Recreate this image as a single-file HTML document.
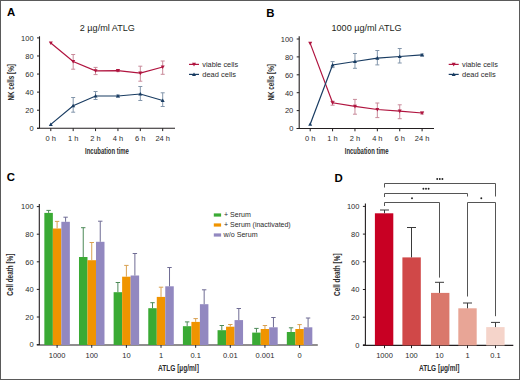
<!DOCTYPE html>
<html><head><meta charset="utf-8"><style>
html,body{margin:0;padding:0;background:#fff;}
#w{position:relative;width:518px;height:378px;border:1px solid #5a5a5a;overflow:hidden;background:#fff;}
svg{position:absolute;left:-1px;top:-1px;}
text{font-family:"Liberation Sans", sans-serif;}
</style></head><body><div id="w">
<svg width="520" height="380" viewBox="0 0 520 380">
<line x1="39.5" y1="36.3" x2="39.5" y2="128.3" stroke="#231f20" stroke-width="1.1"/>
<line x1="37.0" y1="128.3" x2="175" y2="128.3" stroke="#231f20" stroke-width="1.1"/>
<line x1="37.0" y1="128.3" x2="39.5" y2="128.3" stroke="#231f20" stroke-width="1"/>
<text x="33.6" y="131.15" font-size="7.9" text-anchor="end" fill="#2b2b2b" font-weight="normal" textLength="4.17" lengthAdjust="spacingAndGlyphs" >0</text>
<line x1="37.0" y1="110.22000000000001" x2="39.5" y2="110.22000000000001" stroke="#231f20" stroke-width="1"/>
<text x="33.6" y="113.07000000000001" font-size="7.9" text-anchor="end" fill="#2b2b2b" font-weight="normal" textLength="8.35" lengthAdjust="spacingAndGlyphs" >20</text>
<line x1="37.0" y1="92.14000000000001" x2="39.5" y2="92.14000000000001" stroke="#231f20" stroke-width="1"/>
<text x="33.6" y="94.99000000000001" font-size="7.9" text-anchor="end" fill="#2b2b2b" font-weight="normal" textLength="8.35" lengthAdjust="spacingAndGlyphs" >40</text>
<line x1="37.0" y1="74.06" x2="39.5" y2="74.06" stroke="#231f20" stroke-width="1"/>
<text x="33.6" y="76.91" font-size="7.9" text-anchor="end" fill="#2b2b2b" font-weight="normal" textLength="8.35" lengthAdjust="spacingAndGlyphs" >60</text>
<line x1="37.0" y1="55.980000000000004" x2="39.5" y2="55.980000000000004" stroke="#231f20" stroke-width="1"/>
<text x="33.6" y="58.830000000000005" font-size="7.9" text-anchor="end" fill="#2b2b2b" font-weight="normal" textLength="8.35" lengthAdjust="spacingAndGlyphs" >80</text>
<line x1="37.0" y1="37.900000000000006" x2="39.5" y2="37.900000000000006" stroke="#231f20" stroke-width="1"/>
<text x="33.6" y="40.75000000000001" font-size="7.9" text-anchor="end" fill="#2b2b2b" font-weight="normal" textLength="12.52" lengthAdjust="spacingAndGlyphs" >100</text>
<line x1="50.8" y1="128.3" x2="50.8" y2="131.10000000000002" stroke="#231f20" stroke-width="1"/>
<text x="50.8" y="140.6" font-size="7.9" text-anchor="middle" fill="#2b2b2b" font-weight="normal" textLength="10.43" lengthAdjust="spacingAndGlyphs" >0 h</text>
<line x1="73.17999999999999" y1="128.3" x2="73.17999999999999" y2="131.10000000000002" stroke="#231f20" stroke-width="1"/>
<text x="73.17999999999999" y="140.6" font-size="7.9" text-anchor="middle" fill="#2b2b2b" font-weight="normal" textLength="10.43" lengthAdjust="spacingAndGlyphs" >1 h</text>
<line x1="95.56" y1="128.3" x2="95.56" y2="131.10000000000002" stroke="#231f20" stroke-width="1"/>
<text x="95.56" y="140.6" font-size="7.9" text-anchor="middle" fill="#2b2b2b" font-weight="normal" textLength="10.43" lengthAdjust="spacingAndGlyphs" >2 h</text>
<line x1="117.94" y1="128.3" x2="117.94" y2="131.10000000000002" stroke="#231f20" stroke-width="1"/>
<text x="117.94" y="140.6" font-size="7.9" text-anchor="middle" fill="#2b2b2b" font-weight="normal" textLength="10.43" lengthAdjust="spacingAndGlyphs" >4 h</text>
<line x1="140.32" y1="128.3" x2="140.32" y2="131.10000000000002" stroke="#231f20" stroke-width="1"/>
<text x="140.32" y="140.6" font-size="7.9" text-anchor="middle" fill="#2b2b2b" font-weight="normal" textLength="10.43" lengthAdjust="spacingAndGlyphs" >6 h</text>
<line x1="162.7" y1="128.3" x2="162.7" y2="131.10000000000002" stroke="#231f20" stroke-width="1"/>
<text x="162.7" y="140.6" font-size="7.9" text-anchor="middle" fill="#2b2b2b" font-weight="normal" textLength="14.6" lengthAdjust="spacingAndGlyphs" >24 h</text>
<text x="107" y="153.8" font-size="8.2" text-anchor="middle" fill="#2a2a2a" font-weight="bold" textLength="43.8" lengthAdjust="spacingAndGlyphs" >Incubation time</text>
<text transform="translate(14.4,82.3) rotate(-90)" x="0" y="0" font-size="8.2" text-anchor="middle" fill="#2a2a2a" font-weight="bold" textLength="36.5" lengthAdjust="spacingAndGlyphs">NK cells [%]</text>
<text x="79.8" y="30.7" font-size="8.9" text-anchor="start" fill="#231f20" font-weight="normal" textLength="55" lengthAdjust="spacingAndGlyphs" >2 µg/ml ATLG</text>
<line x1="73.17999999999999" y1="54.5" x2="73.17999999999999" y2="69.2" stroke="#c98a9a" stroke-width="1"/>
<line x1="71.17999999999999" y1="54.5" x2="75.17999999999999" y2="54.5" stroke="#c98a9a" stroke-width="1"/>
<line x1="71.17999999999999" y1="69.2" x2="75.17999999999999" y2="69.2" stroke="#c98a9a" stroke-width="1"/>
<line x1="95.56" y1="67.4" x2="95.56" y2="74.6" stroke="#c98a9a" stroke-width="1"/>
<line x1="93.56" y1="67.4" x2="97.56" y2="67.4" stroke="#c98a9a" stroke-width="1"/>
<line x1="93.56" y1="74.6" x2="97.56" y2="74.6" stroke="#c98a9a" stroke-width="1"/>
<line x1="117.94" y1="69.6" x2="117.94" y2="71.6" stroke="#c98a9a" stroke-width="1"/>
<line x1="115.94" y1="69.6" x2="119.94" y2="69.6" stroke="#c98a9a" stroke-width="1"/>
<line x1="115.94" y1="71.6" x2="119.94" y2="71.6" stroke="#c98a9a" stroke-width="1"/>
<line x1="140.32" y1="66.2" x2="140.32" y2="81.2" stroke="#c98a9a" stroke-width="1"/>
<line x1="138.32" y1="66.2" x2="142.32" y2="66.2" stroke="#c98a9a" stroke-width="1"/>
<line x1="138.32" y1="81.2" x2="142.32" y2="81.2" stroke="#c98a9a" stroke-width="1"/>
<line x1="162.7" y1="61" x2="162.7" y2="74.3" stroke="#c98a9a" stroke-width="1"/>
<line x1="160.7" y1="61" x2="164.7" y2="61" stroke="#c98a9a" stroke-width="1"/>
<line x1="160.7" y1="74.3" x2="164.7" y2="74.3" stroke="#c98a9a" stroke-width="1"/>
<polyline points="50.8,43 73.17999999999999,61.5 95.56,70.8 117.94,70.6 140.32,73.2 162.7,67" fill="none" stroke="#b0143f" stroke-width="1.2"/>
<polygon points="48.8,41.4 52.8,41.4 50.8,45.0" fill="#b0143f"/>
<polygon points="71.17999999999999,59.9 75.17999999999999,59.9 73.17999999999999,63.5" fill="#b0143f"/>
<polygon points="93.56,69.2 97.56,69.2 95.56,72.8" fill="#b0143f"/>
<polygon points="115.94,69.0 119.94,69.0 117.94,72.6" fill="#b0143f"/>
<polygon points="138.32,71.60000000000001 142.32,71.60000000000001 140.32,75.2" fill="#b0143f"/>
<polygon points="160.7,65.4 164.7,65.4 162.7,69.0" fill="#b0143f"/>
<line x1="73.17999999999999" y1="97.5" x2="73.17999999999999" y2="112.2" stroke="#8396ab" stroke-width="1"/>
<line x1="71.17999999999999" y1="97.5" x2="75.17999999999999" y2="97.5" stroke="#8396ab" stroke-width="1"/>
<line x1="71.17999999999999" y1="112.2" x2="75.17999999999999" y2="112.2" stroke="#8396ab" stroke-width="1"/>
<line x1="95.56" y1="91.5" x2="95.56" y2="99.5" stroke="#8396ab" stroke-width="1"/>
<line x1="93.56" y1="91.5" x2="97.56" y2="91.5" stroke="#8396ab" stroke-width="1"/>
<line x1="93.56" y1="99.5" x2="97.56" y2="99.5" stroke="#8396ab" stroke-width="1"/>
<line x1="117.94" y1="95" x2="117.94" y2="97" stroke="#8396ab" stroke-width="1"/>
<line x1="115.94" y1="95" x2="119.94" y2="95" stroke="#8396ab" stroke-width="1"/>
<line x1="115.94" y1="97" x2="119.94" y2="97" stroke="#8396ab" stroke-width="1"/>
<line x1="140.32" y1="86.5" x2="140.32" y2="100.5" stroke="#8396ab" stroke-width="1"/>
<line x1="138.32" y1="86.5" x2="142.32" y2="86.5" stroke="#8396ab" stroke-width="1"/>
<line x1="138.32" y1="100.5" x2="142.32" y2="100.5" stroke="#8396ab" stroke-width="1"/>
<line x1="162.7" y1="92.8" x2="162.7" y2="106.5" stroke="#8396ab" stroke-width="1"/>
<line x1="160.7" y1="92.8" x2="164.7" y2="92.8" stroke="#8396ab" stroke-width="1"/>
<line x1="160.7" y1="106.5" x2="164.7" y2="106.5" stroke="#8396ab" stroke-width="1"/>
<polyline points="50.8,124.4 73.17999999999999,105.7 95.56,96 117.94,96 140.32,94 162.7,100.5" fill="none" stroke="#193c62" stroke-width="1.2"/>
<polygon points="48.8,126.0 52.8,126.0 50.8,122.4" fill="#193c62"/>
<polygon points="71.17999999999999,107.3 75.17999999999999,107.3 73.17999999999999,103.7" fill="#193c62"/>
<polygon points="93.56,97.6 97.56,97.6 95.56,94.0" fill="#193c62"/>
<polygon points="115.94,97.6 119.94,97.6 117.94,94.0" fill="#193c62"/>
<polygon points="138.32,95.6 142.32,95.6 140.32,92.0" fill="#193c62"/>
<polygon points="160.7,102.1 164.7,102.1 162.7,98.5" fill="#193c62"/>
<line x1="189" y1="64.4" x2="199" y2="64.4" stroke="#b0143f" stroke-width="1.2"/>
<polygon points="192.0,62.800000000000004 196.0,62.800000000000004 194,66.4" fill="#b0143f"/>
<text x="202.3" y="67.3" font-size="7.4" text-anchor="start" fill="#2b2b2b" font-weight="normal" textLength="35.8" lengthAdjust="spacingAndGlyphs" >viable cells</text>
<line x1="189" y1="74.4" x2="199" y2="74.4" stroke="#193c62" stroke-width="1.2"/>
<polygon points="192.0,76.0 196.0,76.0 194,72.4" fill="#193c62"/>
<text x="202.3" y="77.3" font-size="7.4" text-anchor="start" fill="#2b2b2b" font-weight="normal" textLength="33.7" lengthAdjust="spacingAndGlyphs" >dead cells</text>
<line x1="299.2" y1="36.3" x2="299.2" y2="128.5" stroke="#231f20" stroke-width="1.1"/>
<line x1="296.7" y1="128.5" x2="434" y2="128.5" stroke="#231f20" stroke-width="1.1"/>
<line x1="296.7" y1="128.5" x2="299.2" y2="128.5" stroke="#231f20" stroke-width="1"/>
<text x="293.3" y="131.35" font-size="7.9" text-anchor="end" fill="#2b2b2b" font-weight="normal" textLength="4.17" lengthAdjust="spacingAndGlyphs" >0</text>
<line x1="296.7" y1="110.6" x2="299.2" y2="110.6" stroke="#231f20" stroke-width="1"/>
<text x="293.3" y="113.44999999999999" font-size="7.9" text-anchor="end" fill="#2b2b2b" font-weight="normal" textLength="8.35" lengthAdjust="spacingAndGlyphs" >20</text>
<line x1="296.7" y1="92.7" x2="299.2" y2="92.7" stroke="#231f20" stroke-width="1"/>
<text x="293.3" y="95.55" font-size="7.9" text-anchor="end" fill="#2b2b2b" font-weight="normal" textLength="8.35" lengthAdjust="spacingAndGlyphs" >40</text>
<line x1="296.7" y1="74.8" x2="299.2" y2="74.8" stroke="#231f20" stroke-width="1"/>
<text x="293.3" y="77.64999999999999" font-size="7.9" text-anchor="end" fill="#2b2b2b" font-weight="normal" textLength="8.35" lengthAdjust="spacingAndGlyphs" >60</text>
<line x1="296.7" y1="56.900000000000006" x2="299.2" y2="56.900000000000006" stroke="#231f20" stroke-width="1"/>
<text x="293.3" y="59.75000000000001" font-size="7.9" text-anchor="end" fill="#2b2b2b" font-weight="normal" textLength="8.35" lengthAdjust="spacingAndGlyphs" >80</text>
<line x1="296.7" y1="39.0" x2="299.2" y2="39.0" stroke="#231f20" stroke-width="1"/>
<text x="293.3" y="41.85" font-size="7.9" text-anchor="end" fill="#2b2b2b" font-weight="normal" textLength="12.52" lengthAdjust="spacingAndGlyphs" >100</text>
<line x1="310.2" y1="128.5" x2="310.2" y2="131.3" stroke="#231f20" stroke-width="1"/>
<text x="310.2" y="140.6" font-size="7.9" text-anchor="middle" fill="#2b2b2b" font-weight="normal" textLength="10.43" lengthAdjust="spacingAndGlyphs" >0 h</text>
<line x1="332.58" y1="128.5" x2="332.58" y2="131.3" stroke="#231f20" stroke-width="1"/>
<text x="332.58" y="140.6" font-size="7.9" text-anchor="middle" fill="#2b2b2b" font-weight="normal" textLength="10.43" lengthAdjust="spacingAndGlyphs" >1 h</text>
<line x1="354.96" y1="128.5" x2="354.96" y2="131.3" stroke="#231f20" stroke-width="1"/>
<text x="354.96" y="140.6" font-size="7.9" text-anchor="middle" fill="#2b2b2b" font-weight="normal" textLength="10.43" lengthAdjust="spacingAndGlyphs" >2 h</text>
<line x1="377.34" y1="128.5" x2="377.34" y2="131.3" stroke="#231f20" stroke-width="1"/>
<text x="377.34" y="140.6" font-size="7.9" text-anchor="middle" fill="#2b2b2b" font-weight="normal" textLength="10.43" lengthAdjust="spacingAndGlyphs" >4 h</text>
<line x1="399.71999999999997" y1="128.5" x2="399.71999999999997" y2="131.3" stroke="#231f20" stroke-width="1"/>
<text x="399.71999999999997" y="140.6" font-size="7.9" text-anchor="middle" fill="#2b2b2b" font-weight="normal" textLength="10.43" lengthAdjust="spacingAndGlyphs" >6 h</text>
<line x1="422.09999999999997" y1="128.5" x2="422.09999999999997" y2="131.3" stroke="#231f20" stroke-width="1"/>
<text x="422.09999999999997" y="140.6" font-size="7.9" text-anchor="middle" fill="#2b2b2b" font-weight="normal" textLength="14.6" lengthAdjust="spacingAndGlyphs" >24 h</text>
<text x="366.7" y="153.8" font-size="8.2" text-anchor="middle" fill="#2a2a2a" font-weight="bold" textLength="43.8" lengthAdjust="spacingAndGlyphs" >Incubation time</text>
<text transform="translate(274.09999999999997,82.3) rotate(-90)" x="0" y="0" font-size="8.2" text-anchor="middle" fill="#2a2a2a" font-weight="bold" textLength="36.5" lengthAdjust="spacingAndGlyphs">NK cells [%]</text>
<text x="331.5" y="30.7" font-size="8.9" text-anchor="start" fill="#231f20" font-weight="normal" textLength="70.1" lengthAdjust="spacingAndGlyphs" >1000 µg/ml ATLG</text>
<line x1="332.58" y1="101.2" x2="332.58" y2="105.2" stroke="#c98a9a" stroke-width="1"/>
<line x1="330.58" y1="101.2" x2="334.58" y2="101.2" stroke="#c98a9a" stroke-width="1"/>
<line x1="330.58" y1="105.2" x2="334.58" y2="105.2" stroke="#c98a9a" stroke-width="1"/>
<line x1="354.96" y1="99.4" x2="354.96" y2="114.2" stroke="#c98a9a" stroke-width="1"/>
<line x1="352.96" y1="99.4" x2="356.96" y2="99.4" stroke="#c98a9a" stroke-width="1"/>
<line x1="352.96" y1="114.2" x2="356.96" y2="114.2" stroke="#c98a9a" stroke-width="1"/>
<line x1="377.34" y1="103" x2="377.34" y2="117.6" stroke="#c98a9a" stroke-width="1"/>
<line x1="375.34" y1="103" x2="379.34" y2="103" stroke="#c98a9a" stroke-width="1"/>
<line x1="375.34" y1="117.6" x2="379.34" y2="117.6" stroke="#c98a9a" stroke-width="1"/>
<line x1="399.71999999999997" y1="104.8" x2="399.71999999999997" y2="118.7" stroke="#c98a9a" stroke-width="1"/>
<line x1="397.71999999999997" y1="104.8" x2="401.71999999999997" y2="104.8" stroke="#c98a9a" stroke-width="1"/>
<line x1="397.71999999999997" y1="118.7" x2="401.71999999999997" y2="118.7" stroke="#c98a9a" stroke-width="1"/>
<line x1="422.09999999999997" y1="112" x2="422.09999999999997" y2="114" stroke="#c98a9a" stroke-width="1"/>
<line x1="420.09999999999997" y1="112" x2="424.09999999999997" y2="112" stroke="#c98a9a" stroke-width="1"/>
<line x1="420.09999999999997" y1="114" x2="424.09999999999997" y2="114" stroke="#c98a9a" stroke-width="1"/>
<polyline points="310.2,43.4 332.58,102.8 354.96,106.4 377.34,109.5 399.71999999999997,111.2 422.09999999999997,113" fill="none" stroke="#b0143f" stroke-width="1.2"/>
<polygon points="308.2,41.8 312.2,41.8 310.2,45.4" fill="#b0143f"/>
<polygon points="330.58,101.2 334.58,101.2 332.58,104.8" fill="#b0143f"/>
<polygon points="352.96,104.80000000000001 356.96,104.80000000000001 354.96,108.4" fill="#b0143f"/>
<polygon points="375.34,107.9 379.34,107.9 377.34,111.5" fill="#b0143f"/>
<polygon points="397.71999999999997,109.60000000000001 401.71999999999997,109.60000000000001 399.71999999999997,113.2" fill="#b0143f"/>
<polygon points="420.09999999999997,111.4 424.09999999999997,111.4 422.09999999999997,115.0" fill="#b0143f"/>
<line x1="332.58" y1="61.6" x2="332.58" y2="67.6" stroke="#8396ab" stroke-width="1"/>
<line x1="330.58" y1="61.6" x2="334.58" y2="61.6" stroke="#8396ab" stroke-width="1"/>
<line x1="330.58" y1="67.6" x2="334.58" y2="67.6" stroke="#8396ab" stroke-width="1"/>
<line x1="354.96" y1="53.5" x2="354.96" y2="68.3" stroke="#8396ab" stroke-width="1"/>
<line x1="352.96" y1="53.5" x2="356.96" y2="53.5" stroke="#8396ab" stroke-width="1"/>
<line x1="352.96" y1="68.3" x2="356.96" y2="68.3" stroke="#8396ab" stroke-width="1"/>
<line x1="377.34" y1="50.5" x2="377.34" y2="64.9" stroke="#8396ab" stroke-width="1"/>
<line x1="375.34" y1="50.5" x2="379.34" y2="50.5" stroke="#8396ab" stroke-width="1"/>
<line x1="375.34" y1="64.9" x2="379.34" y2="64.9" stroke="#8396ab" stroke-width="1"/>
<line x1="399.71999999999997" y1="48.5" x2="399.71999999999997" y2="63" stroke="#8396ab" stroke-width="1"/>
<line x1="397.71999999999997" y1="48.5" x2="401.71999999999997" y2="48.5" stroke="#8396ab" stroke-width="1"/>
<line x1="397.71999999999997" y1="63" x2="401.71999999999997" y2="63" stroke="#8396ab" stroke-width="1"/>
<line x1="422.09999999999997" y1="54" x2="422.09999999999997" y2="55.8" stroke="#8396ab" stroke-width="1"/>
<line x1="420.09999999999997" y1="54" x2="424.09999999999997" y2="54" stroke="#8396ab" stroke-width="1"/>
<line x1="420.09999999999997" y1="55.8" x2="424.09999999999997" y2="55.8" stroke="#8396ab" stroke-width="1"/>
<polyline points="310.2,124.2 332.58,65 354.96,61.5 377.34,58.1 399.71999999999997,56.5 422.09999999999997,54.9" fill="none" stroke="#193c62" stroke-width="1.2"/>
<polygon points="308.2,125.8 312.2,125.8 310.2,122.2" fill="#193c62"/>
<polygon points="330.58,66.6 334.58,66.6 332.58,63.0" fill="#193c62"/>
<polygon points="352.96,63.1 356.96,63.1 354.96,59.5" fill="#193c62"/>
<polygon points="375.34,59.7 379.34,59.7 377.34,56.1" fill="#193c62"/>
<polygon points="397.71999999999997,58.1 401.71999999999997,58.1 399.71999999999997,54.5" fill="#193c62"/>
<polygon points="420.09999999999997,56.5 424.09999999999997,56.5 422.09999999999997,52.9" fill="#193c62"/>
<line x1="448.7" y1="64.4" x2="458.7" y2="64.4" stroke="#b0143f" stroke-width="1.2"/>
<polygon points="451.7,62.800000000000004 455.7,62.800000000000004 453.7,66.4" fill="#b0143f"/>
<text x="462.0" y="67.3" font-size="7.4" text-anchor="start" fill="#2b2b2b" font-weight="normal" textLength="35.8" lengthAdjust="spacingAndGlyphs" >viable cells</text>
<line x1="448.7" y1="74.4" x2="458.7" y2="74.4" stroke="#193c62" stroke-width="1.2"/>
<polygon points="451.7,76.0 455.7,76.0 453.7,72.4" fill="#193c62"/>
<text x="462.0" y="77.3" font-size="7.4" text-anchor="start" fill="#2b2b2b" font-weight="normal" textLength="33.7" lengthAdjust="spacingAndGlyphs" >dead cells</text>
<text x="7.0" y="15.9" font-size="11.4" text-anchor="start" fill="#000" font-weight="bold" >A</text>
<text x="266.3" y="16.6" font-size="11.4" text-anchor="start" fill="#000" font-weight="bold" >B</text>
<text x="6.8" y="181.2" font-size="11.4" text-anchor="start" fill="#000" font-weight="bold" >C</text>
<text x="334.6" y="181.5" font-size="11.4" text-anchor="start" fill="#000" font-weight="bold" >D</text>
<line x1="39.3" y1="204" x2="39.3" y2="345" stroke="#231f20" stroke-width="1.1"/>
<line x1="36.8" y1="345" x2="317.8" y2="345" stroke="#231f20" stroke-width="1.1"/>
<line x1="36.8" y1="344.6" x2="39.3" y2="344.6" stroke="#231f20" stroke-width="1"/>
<text x="33.6" y="347.45000000000005" font-size="7.9" text-anchor="end" fill="#2b2b2b" font-weight="normal" textLength="4.17" lengthAdjust="spacingAndGlyphs" >0</text>
<line x1="36.8" y1="317.0" x2="39.3" y2="317.0" stroke="#231f20" stroke-width="1"/>
<text x="33.6" y="319.85" font-size="7.9" text-anchor="end" fill="#2b2b2b" font-weight="normal" textLength="8.35" lengthAdjust="spacingAndGlyphs" >20</text>
<line x1="36.8" y1="289.4" x2="39.3" y2="289.4" stroke="#231f20" stroke-width="1"/>
<text x="33.6" y="292.25" font-size="7.9" text-anchor="end" fill="#2b2b2b" font-weight="normal" textLength="8.35" lengthAdjust="spacingAndGlyphs" >40</text>
<line x1="36.8" y1="261.8" x2="39.3" y2="261.8" stroke="#231f20" stroke-width="1"/>
<text x="33.6" y="264.65000000000003" font-size="7.9" text-anchor="end" fill="#2b2b2b" font-weight="normal" textLength="8.35" lengthAdjust="spacingAndGlyphs" >60</text>
<line x1="36.8" y1="234.2" x2="39.3" y2="234.2" stroke="#231f20" stroke-width="1"/>
<text x="33.6" y="237.04999999999998" font-size="7.9" text-anchor="end" fill="#2b2b2b" font-weight="normal" textLength="8.35" lengthAdjust="spacingAndGlyphs" >80</text>
<line x1="36.8" y1="206.6" x2="39.3" y2="206.6" stroke="#231f20" stroke-width="1"/>
<text x="33.6" y="209.45" font-size="7.9" text-anchor="end" fill="#2b2b2b" font-weight="normal" textLength="12.52" lengthAdjust="spacingAndGlyphs" >100</text>
<rect x="44.35" y="212.9" width="8.5" height="132.10" fill="#3aaa34"/>
<line x1="48.6" y1="210.4" x2="48.6" y2="212.9" stroke="#4d8a58" stroke-width="1"/>
<line x1="46.4" y1="210.4" x2="50.800000000000004" y2="210.4" stroke="#4d8a58" stroke-width="1"/>
<rect x="52.85" y="228.5" width="8.5" height="116.50" fill="#f09400"/>
<line x1="57.1" y1="221.4" x2="57.1" y2="228.5" stroke="#d9a050" stroke-width="1"/>
<line x1="54.9" y1="221.4" x2="59.300000000000004" y2="221.4" stroke="#d9a050" stroke-width="1"/>
<rect x="61.35" y="221.8" width="8.5" height="123.20" fill="#9288c0"/>
<line x1="65.6" y1="217.2" x2="65.6" y2="221.8" stroke="#6f6c94" stroke-width="1"/>
<line x1="63.39999999999999" y1="217.2" x2="67.8" y2="217.2" stroke="#6f6c94" stroke-width="1"/>
<line x1="57.1" y1="345" x2="57.1" y2="347.8" stroke="#231f20" stroke-width="1"/>
<text x="57.1" y="358" font-size="7.9" text-anchor="middle" fill="#2b2b2b" font-weight="normal" textLength="16.69" lengthAdjust="spacingAndGlyphs" >1000</text>
<rect x="78.99" y="257.0" width="8.5" height="88.00" fill="#3aaa34"/>
<line x1="83.24000000000001" y1="227.7" x2="83.24000000000001" y2="257.0" stroke="#4d8a58" stroke-width="1"/>
<line x1="81.04" y1="227.7" x2="85.44000000000001" y2="227.7" stroke="#4d8a58" stroke-width="1"/>
<rect x="87.49" y="260.2" width="8.5" height="84.80" fill="#f09400"/>
<line x1="91.74000000000001" y1="242.5" x2="91.74000000000001" y2="260.2" stroke="#d9a050" stroke-width="1"/>
<line x1="89.54" y1="242.5" x2="93.94000000000001" y2="242.5" stroke="#d9a050" stroke-width="1"/>
<rect x="95.99" y="241.8" width="8.5" height="103.20" fill="#9288c0"/>
<line x1="100.24000000000001" y1="221.2" x2="100.24000000000001" y2="241.8" stroke="#6f6c94" stroke-width="1"/>
<line x1="98.04" y1="221.2" x2="102.44000000000001" y2="221.2" stroke="#6f6c94" stroke-width="1"/>
<line x1="91.74000000000001" y1="345" x2="91.74000000000001" y2="347.8" stroke="#231f20" stroke-width="1"/>
<text x="91.74000000000001" y="358" font-size="7.9" text-anchor="middle" fill="#2b2b2b" font-weight="normal" textLength="12.52" lengthAdjust="spacingAndGlyphs" >100</text>
<rect x="113.63" y="292.2" width="8.5" height="52.80" fill="#3aaa34"/>
<line x1="117.88" y1="282.5" x2="117.88" y2="292.2" stroke="#4d8a58" stroke-width="1"/>
<line x1="115.67999999999999" y1="282.5" x2="120.08" y2="282.5" stroke="#4d8a58" stroke-width="1"/>
<rect x="122.13" y="276.7" width="8.5" height="68.30" fill="#f09400"/>
<line x1="126.38" y1="265.4" x2="126.38" y2="276.7" stroke="#d9a050" stroke-width="1"/>
<line x1="124.17999999999999" y1="265.4" x2="128.57999999999998" y2="265.4" stroke="#d9a050" stroke-width="1"/>
<rect x="130.63" y="275.5" width="8.5" height="69.50" fill="#9288c0"/>
<line x1="134.88" y1="253.5" x2="134.88" y2="275.5" stroke="#6f6c94" stroke-width="1"/>
<line x1="132.68" y1="253.5" x2="137.07999999999998" y2="253.5" stroke="#6f6c94" stroke-width="1"/>
<line x1="126.38" y1="345" x2="126.38" y2="347.8" stroke="#231f20" stroke-width="1"/>
<text x="126.38" y="358" font-size="7.9" text-anchor="middle" fill="#2b2b2b" font-weight="normal" textLength="8.35" lengthAdjust="spacingAndGlyphs" >10</text>
<rect x="148.27" y="308.2" width="8.5" height="36.80" fill="#3aaa34"/>
<line x1="152.52" y1="302.7" x2="152.52" y2="308.2" stroke="#4d8a58" stroke-width="1"/>
<line x1="150.32000000000002" y1="302.7" x2="154.72" y2="302.7" stroke="#4d8a58" stroke-width="1"/>
<rect x="156.77" y="296.9" width="8.5" height="48.10" fill="#f09400"/>
<line x1="161.02" y1="287.2" x2="161.02" y2="296.9" stroke="#d9a050" stroke-width="1"/>
<line x1="158.82000000000002" y1="287.2" x2="163.22" y2="287.2" stroke="#d9a050" stroke-width="1"/>
<rect x="165.27" y="286.3" width="8.5" height="58.70" fill="#9288c0"/>
<line x1="169.52" y1="267.5" x2="169.52" y2="286.3" stroke="#6f6c94" stroke-width="1"/>
<line x1="167.32000000000002" y1="267.5" x2="171.72" y2="267.5" stroke="#6f6c94" stroke-width="1"/>
<line x1="161.02" y1="345" x2="161.02" y2="347.8" stroke="#231f20" stroke-width="1"/>
<text x="161.02" y="358" font-size="7.9" text-anchor="middle" fill="#2b2b2b" font-weight="normal" textLength="4.17" lengthAdjust="spacingAndGlyphs" >1</text>
<rect x="182.91" y="326.2" width="8.5" height="18.80" fill="#3aaa34"/>
<line x1="187.16" y1="321.9" x2="187.16" y2="326.2" stroke="#4d8a58" stroke-width="1"/>
<line x1="184.96" y1="321.9" x2="189.35999999999999" y2="321.9" stroke="#4d8a58" stroke-width="1"/>
<rect x="191.41" y="321.9" width="8.5" height="23.10" fill="#f09400"/>
<line x1="195.66" y1="318.6" x2="195.66" y2="321.9" stroke="#d9a050" stroke-width="1"/>
<line x1="193.46" y1="318.6" x2="197.85999999999999" y2="318.6" stroke="#d9a050" stroke-width="1"/>
<rect x="199.91" y="304.2" width="8.5" height="40.80" fill="#9288c0"/>
<line x1="204.16" y1="289.8" x2="204.16" y2="304.2" stroke="#6f6c94" stroke-width="1"/>
<line x1="201.96" y1="289.8" x2="206.35999999999999" y2="289.8" stroke="#6f6c94" stroke-width="1"/>
<line x1="195.66" y1="345" x2="195.66" y2="347.8" stroke="#231f20" stroke-width="1"/>
<text x="195.66" y="358" font-size="7.9" text-anchor="middle" fill="#2b2b2b" font-weight="normal" textLength="10.43" lengthAdjust="spacingAndGlyphs" >0.1</text>
<rect x="217.55" y="330.2" width="8.5" height="14.80" fill="#3aaa34"/>
<line x1="221.79999999999998" y1="325.5" x2="221.79999999999998" y2="330.2" stroke="#4d8a58" stroke-width="1"/>
<line x1="219.6" y1="325.5" x2="223.99999999999997" y2="325.5" stroke="#4d8a58" stroke-width="1"/>
<rect x="226.05" y="326.7" width="8.5" height="18.30" fill="#f09400"/>
<line x1="230.29999999999998" y1="324.5" x2="230.29999999999998" y2="326.7" stroke="#d9a050" stroke-width="1"/>
<line x1="228.1" y1="324.5" x2="232.49999999999997" y2="324.5" stroke="#d9a050" stroke-width="1"/>
<rect x="234.55" y="320.1" width="8.5" height="24.90" fill="#9288c0"/>
<line x1="238.79999999999998" y1="308.5" x2="238.79999999999998" y2="320.1" stroke="#6f6c94" stroke-width="1"/>
<line x1="236.6" y1="308.5" x2="240.99999999999997" y2="308.5" stroke="#6f6c94" stroke-width="1"/>
<line x1="230.29999999999998" y1="345" x2="230.29999999999998" y2="347.8" stroke="#231f20" stroke-width="1"/>
<text x="230.29999999999998" y="358" font-size="7.9" text-anchor="middle" fill="#2b2b2b" font-weight="normal" textLength="14.6" lengthAdjust="spacingAndGlyphs" >0.01</text>
<rect x="252.19" y="332.6" width="8.5" height="12.40" fill="#3aaa34"/>
<line x1="256.44" y1="328.4" x2="256.44" y2="332.6" stroke="#4d8a58" stroke-width="1"/>
<line x1="254.24" y1="328.4" x2="258.64" y2="328.4" stroke="#4d8a58" stroke-width="1"/>
<rect x="260.69" y="329.0" width="8.5" height="16.00" fill="#f09400"/>
<line x1="264.94" y1="325.5" x2="264.94" y2="329.0" stroke="#d9a050" stroke-width="1"/>
<line x1="262.74" y1="325.5" x2="267.14" y2="325.5" stroke="#d9a050" stroke-width="1"/>
<rect x="269.19" y="327.3" width="8.5" height="17.70" fill="#9288c0"/>
<line x1="273.44" y1="317.5" x2="273.44" y2="327.3" stroke="#6f6c94" stroke-width="1"/>
<line x1="271.24" y1="317.5" x2="275.64" y2="317.5" stroke="#6f6c94" stroke-width="1"/>
<line x1="264.94" y1="345" x2="264.94" y2="347.8" stroke="#231f20" stroke-width="1"/>
<text x="264.94" y="358" font-size="7.9" text-anchor="middle" fill="#2b2b2b" font-weight="normal" textLength="18.78" lengthAdjust="spacingAndGlyphs" >0.001</text>
<rect x="286.83" y="332.0" width="8.5" height="13.00" fill="#3aaa34"/>
<line x1="291.08000000000004" y1="327.8" x2="291.08000000000004" y2="332.0" stroke="#4d8a58" stroke-width="1"/>
<line x1="288.88000000000005" y1="327.8" x2="293.28000000000003" y2="327.8" stroke="#4d8a58" stroke-width="1"/>
<rect x="295.33" y="329.0" width="8.5" height="16.00" fill="#f09400"/>
<line x1="299.58000000000004" y1="324.6" x2="299.58000000000004" y2="329.0" stroke="#d9a050" stroke-width="1"/>
<line x1="297.38000000000005" y1="324.6" x2="301.78000000000003" y2="324.6" stroke="#d9a050" stroke-width="1"/>
<rect x="303.83" y="327.3" width="8.5" height="17.70" fill="#9288c0"/>
<line x1="308.08000000000004" y1="318.0" x2="308.08000000000004" y2="327.3" stroke="#6f6c94" stroke-width="1"/>
<line x1="305.88000000000005" y1="318.0" x2="310.28000000000003" y2="318.0" stroke="#6f6c94" stroke-width="1"/>
<line x1="299.58000000000004" y1="345" x2="299.58000000000004" y2="347.8" stroke="#231f20" stroke-width="1"/>
<text x="299.58000000000004" y="358" font-size="7.9" text-anchor="middle" fill="#2b2b2b" font-weight="normal" textLength="4.17" lengthAdjust="spacingAndGlyphs" >0</text>
<text x="178.4" y="371.1" font-size="8.2" text-anchor="middle" fill="#2a2a2a" font-weight="bold" textLength="41" lengthAdjust="spacingAndGlyphs" >ATLG [µg/ml]</text>
<text transform="translate(13.0,274.7) rotate(-90)" x="0" y="0" font-size="8.2" text-anchor="middle" fill="#2a2a2a" font-weight="bold" textLength="42" lengthAdjust="spacingAndGlyphs">Cell death [%]</text>
<rect x="213.8" y="213.4" width="7.3" height="3.2" fill="#3aaa34"/>
<text x="224" y="216.8" font-size="7.1" text-anchor="start" fill="#2b2b2b" font-weight="normal" textLength="26.8" lengthAdjust="spacingAndGlyphs" >+ Serum</text>
<rect x="213.8" y="223.4" width="7.3" height="3.2" fill="#f09400"/>
<text x="224" y="226.8" font-size="7.1" text-anchor="start" fill="#2b2b2b" font-weight="normal" textLength="66.7" lengthAdjust="spacingAndGlyphs" >+ Serum (inactivated)</text>
<rect x="213.8" y="233.4" width="7.3" height="3.2" fill="#9288c0"/>
<text x="223.6" y="236.8" font-size="7.1" text-anchor="start" fill="#2b2b2b" font-weight="normal" textLength="34" lengthAdjust="spacingAndGlyphs" >w/o Serum</text>
<line x1="365.4" y1="203.5" x2="365.4" y2="345.4" stroke="#231f20" stroke-width="1.1"/>
<line x1="362.9" y1="345.4" x2="513.3" y2="345.4" stroke="#231f20" stroke-width="1.1"/>
<line x1="362.9" y1="344.9" x2="365.4" y2="344.9" stroke="#231f20" stroke-width="1"/>
<text x="359.4" y="347.75" font-size="7.9" text-anchor="end" fill="#2b2b2b" font-weight="normal" textLength="4.17" lengthAdjust="spacingAndGlyphs" >0</text>
<line x1="362.9" y1="317.2" x2="365.4" y2="317.2" stroke="#231f20" stroke-width="1"/>
<text x="359.4" y="320.05" font-size="7.9" text-anchor="end" fill="#2b2b2b" font-weight="normal" textLength="8.35" lengthAdjust="spacingAndGlyphs" >20</text>
<line x1="362.9" y1="289.5" x2="365.4" y2="289.5" stroke="#231f20" stroke-width="1"/>
<text x="359.4" y="292.35" font-size="7.9" text-anchor="end" fill="#2b2b2b" font-weight="normal" textLength="8.35" lengthAdjust="spacingAndGlyphs" >40</text>
<line x1="362.9" y1="261.8" x2="365.4" y2="261.8" stroke="#231f20" stroke-width="1"/>
<text x="359.4" y="264.65000000000003" font-size="7.9" text-anchor="end" fill="#2b2b2b" font-weight="normal" textLength="8.35" lengthAdjust="spacingAndGlyphs" >60</text>
<line x1="362.9" y1="234.1" x2="365.4" y2="234.1" stroke="#231f20" stroke-width="1"/>
<text x="359.4" y="236.95" font-size="7.9" text-anchor="end" fill="#2b2b2b" font-weight="normal" textLength="8.35" lengthAdjust="spacingAndGlyphs" >80</text>
<line x1="362.9" y1="206.4" x2="365.4" y2="206.4" stroke="#231f20" stroke-width="1"/>
<text x="359.4" y="209.25" font-size="7.9" text-anchor="end" fill="#2b2b2b" font-weight="normal" textLength="12.52" lengthAdjust="spacingAndGlyphs" >100</text>
<rect x="374.90" y="213.3" width="18.4" height="132.10" fill="#c80023"/>
<line x1="384.5" y1="210.0" x2="384.5" y2="213.3" stroke="#3a3a3a" stroke-width="1"/>
<line x1="380.0" y1="210.0" x2="389.0" y2="210.0" stroke="#3a3a3a" stroke-width="1"/>
<line x1="384.5" y1="345.4" x2="384.5" y2="348.2" stroke="#231f20" stroke-width="1"/>
<text x="384.5" y="358.2" font-size="7.9" text-anchor="middle" fill="#2b2b2b" font-weight="normal" textLength="16.69" lengthAdjust="spacingAndGlyphs" >1000</text>
<rect x="402.40" y="257.4" width="18.4" height="88.00" fill="#d04848"/>
<line x1="411.5" y1="227.5" x2="411.5" y2="257.4" stroke="#3a3a3a" stroke-width="1"/>
<line x1="407.0" y1="227.5" x2="416.0" y2="227.5" stroke="#3a3a3a" stroke-width="1"/>
<line x1="411.5" y1="345.4" x2="411.5" y2="348.2" stroke="#231f20" stroke-width="1"/>
<text x="411.5" y="358.2" font-size="7.9" text-anchor="middle" fill="#2b2b2b" font-weight="normal" textLength="12.52" lengthAdjust="spacingAndGlyphs" >100</text>
<rect x="431.00" y="292.9" width="18.4" height="52.50" fill="#da786c"/>
<line x1="439.5" y1="282.3" x2="439.5" y2="292.9" stroke="#3a3a3a" stroke-width="1"/>
<line x1="435.0" y1="282.3" x2="444.0" y2="282.3" stroke="#3a3a3a" stroke-width="1"/>
<line x1="439.5" y1="345.4" x2="439.5" y2="348.2" stroke="#231f20" stroke-width="1"/>
<text x="439.5" y="358.2" font-size="7.9" text-anchor="middle" fill="#2b2b2b" font-weight="normal" textLength="8.35" lengthAdjust="spacingAndGlyphs" >10</text>
<rect x="458.30" y="308.3" width="18.4" height="37.10" fill="#e8a596"/>
<line x1="467.5" y1="303.0" x2="467.5" y2="308.3" stroke="#3a3a3a" stroke-width="1"/>
<line x1="463.0" y1="303.0" x2="472.0" y2="303.0" stroke="#3a3a3a" stroke-width="1"/>
<line x1="467.5" y1="345.4" x2="467.5" y2="348.2" stroke="#231f20" stroke-width="1"/>
<text x="467.5" y="358.2" font-size="7.9" text-anchor="middle" fill="#2b2b2b" font-weight="normal" textLength="4.17" lengthAdjust="spacingAndGlyphs" >1</text>
<rect x="486.20" y="327.1" width="18.4" height="18.30" fill="#f5d4ca"/>
<line x1="495.5" y1="322.4" x2="495.5" y2="327.1" stroke="#3a3a3a" stroke-width="1"/>
<line x1="491.0" y1="322.4" x2="500.0" y2="322.4" stroke="#3a3a3a" stroke-width="1"/>
<line x1="495.5" y1="345.4" x2="495.5" y2="348.2" stroke="#231f20" stroke-width="1"/>
<text x="495.5" y="358.2" font-size="7.9" text-anchor="middle" fill="#2b2b2b" font-weight="normal" textLength="10.43" lengthAdjust="spacingAndGlyphs" >0.1</text>
<text x="439.2" y="371.2" font-size="8.2" text-anchor="middle" fill="#2a2a2a" font-weight="bold" textLength="40.5" lengthAdjust="spacingAndGlyphs" >ATLG [µg/ml]</text>
<text transform="translate(339.9,274.7) rotate(-90)" x="0" y="0" font-size="8.2" text-anchor="middle" fill="#2a2a2a" font-weight="bold" textLength="42.5" lengthAdjust="spacingAndGlyphs">Cell death [%]</text>
<polyline points="384.5,187.5 384.5,183.5 495.5,183.5 495.5,196.5" fill="none" stroke="#555" stroke-width="1"/>
<polyline points="384.5,197.0 384.5,193.5 467.5,193.5 467.5,196.5" fill="none" stroke="#555" stroke-width="1"/>
<polyline points="384.5,206.0 384.5,202.5 439.5,202.5 439.5,277.6" fill="none" stroke="#555" stroke-width="1"/>
<polyline points="467.5,296.5 467.5,202.5 495.5,202.5 495.5,316.2" fill="none" stroke="#555" stroke-width="1"/>
<circle cx="437.20" cy="179" r="0.95" fill="#222"/>
<circle cx="439.80" cy="179" r="0.95" fill="#222"/>
<circle cx="442.40" cy="179" r="0.95" fill="#222"/>
<circle cx="423.40" cy="188.8" r="0.95" fill="#222"/>
<circle cx="426.00" cy="188.8" r="0.95" fill="#222"/>
<circle cx="428.60" cy="188.8" r="0.95" fill="#222"/>
<circle cx="412.00" cy="198.2" r="0.95" fill="#222"/>
<circle cx="481.30" cy="198.3" r="0.95" fill="#222"/>
</svg></div></body></html>
